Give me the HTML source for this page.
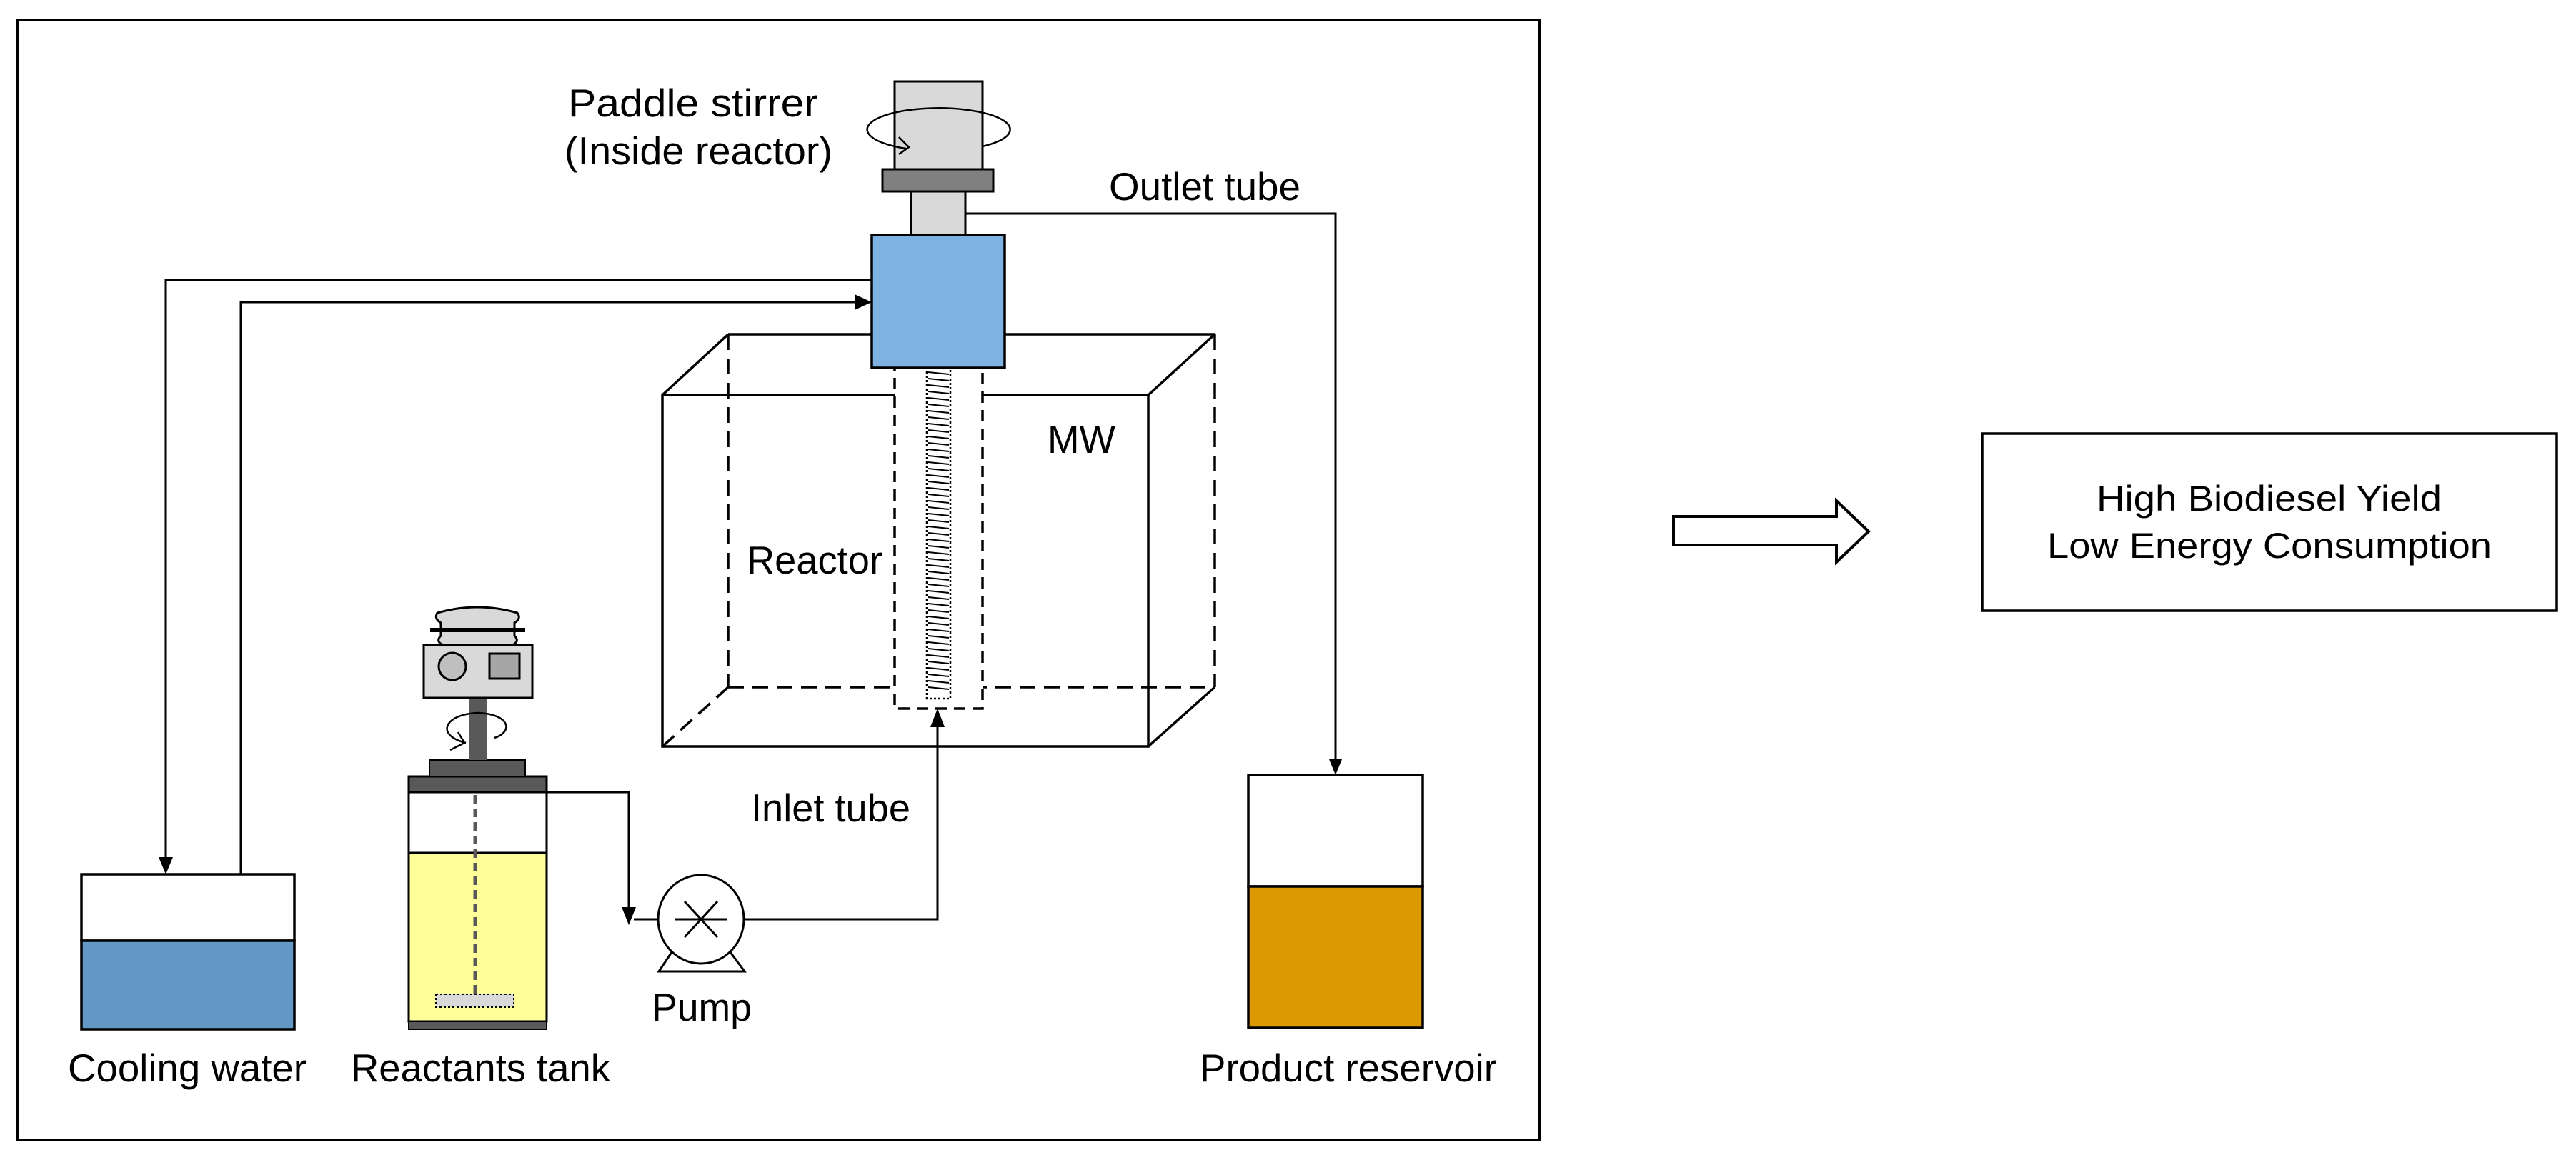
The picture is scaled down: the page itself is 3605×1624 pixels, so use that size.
<!DOCTYPE html>
<html><head><meta charset="utf-8"><style>
html,body{margin:0;padding:0;background:#fff}
svg{display:block}
text{font-family:"Liberation Sans",Arial,sans-serif;fill:#000}
</style></head><body>
<svg width="3605" height="1624" viewBox="0 0 3605 1624" xmlns="http://www.w3.org/2000/svg">
<rect width="3605" height="1624" fill="#fff"/>
<rect x="24" y="28" width="2131" height="1568" fill="none" stroke="#000" stroke-width="4"/>

<g fill="none" stroke="#000" stroke-width="3.5">
<rect x="927" y="553" width="680" height="492"/>
<line x1="1019" y1="468" x2="1700" y2="468"/>
<line x1="927" y1="553" x2="1019" y2="468"/>
<line x1="1607" y1="553" x2="1700" y2="468"/>
<line x1="1607" y1="1045" x2="1700" y2="962"/>
<g stroke-dasharray="22,12">
<line x1="1019" y1="468" x2="1019" y2="962"/>
<line x1="1700" y1="468" x2="1700" y2="962"/>
<line x1="1019" y1="962" x2="1700" y2="962"/>
<line x1="927" y1="1045" x2="1019" y2="962"/>
</g>
</g>
<rect x="1252" y="515" width="123" height="477" fill="#fff" stroke="#000" stroke-width="3.5" stroke-dasharray="16,10"/>
<rect x="1297" y="515" width="33" height="463" fill="#fff" stroke="#000" stroke-width="2.5" stroke-dasharray="3,3"/>
<g stroke="#000" stroke-width="2">
<path d="M1299 521 L1328 524 M1299 530 L1328 533 M1299 539 L1328 542 M1299 548 L1328 551 M1299 557 L1328 560 M1299 566 L1328 569 M1299 575 L1328 578 M1299 584 L1328 587 M1299 593 L1328 596 M1299 602 L1328 605 M1299 611 L1328 614 M1299 620 L1328 623 M1299 629 L1328 632 M1299 638 L1328 641 M1299 647 L1328 650 M1299 656 L1328 659 M1299 665 L1328 668 M1299 674 L1328 677 M1299 683 L1328 686 M1299 692 L1328 695 M1299 701 L1328 704 M1299 710 L1328 713 M1299 719 L1328 722 M1299 728 L1328 731 M1299 737 L1328 740 M1299 746 L1328 749 M1299 755 L1328 758 M1299 764 L1328 767 M1299 773 L1328 776 M1299 782 L1328 785 M1299 791 L1328 794 M1299 800 L1328 803 M1299 809 L1328 812 M1299 818 L1328 821 M1299 827 L1328 830 M1299 836 L1328 839 M1299 845 L1328 848 M1299 854 L1328 857 M1299 863 L1328 866 M1299 872 L1328 875 M1299 881 L1328 884 M1299 890 L1328 893 M1299 899 L1328 902 M1299 908 L1328 911 M1299 917 L1328 920 M1299 926 L1328 929 M1299 935 L1328 938 M1299 944 L1328 947 M1299 953 L1328 956 M1299 962 L1328 965"/>
</g>

<rect x="1252" y="114" width="123" height="123" fill="#d9d9d9" stroke="#000" stroke-width="3"/>
<path d="M1268 208 A100 30 0 1 1 1375 205" fill="none" stroke="#000" stroke-width="2.5"/>
<path d="M1258 192 L1272 206 L1258 216" fill="none" stroke="#000" stroke-width="2.5"/>
<rect x="1235" y="237" width="155" height="31" fill="#808080" stroke="#000" stroke-width="3"/>
<rect x="1275" y="268" width="76" height="61" fill="#d9d9d9" stroke="#000" stroke-width="3"/>
<rect x="1220" y="329" width="186" height="186" fill="#7eb2e2" stroke="#000" stroke-width="3.5"/>

<polyline points="1351,299 1869,299 1869,1065" fill="none" stroke="#000" stroke-width="3"/>
<polygon points="1860,1063 1878,1063 1869,1085" fill="#000"/>
<polyline points="1220,392 232,392 232,1204" fill="none" stroke="#000" stroke-width="3"/>
<polygon points="222,1200 242,1200 232,1224" fill="#000"/>
<polyline points="337,1224 337,423 1198,423" fill="none" stroke="#000" stroke-width="3"/>
<polygon points="1196,412 1196,434 1220,423" fill="#000"/>

<rect x="114" y="1224" width="298" height="93" fill="#fff" stroke="#000" stroke-width="3.5"/>
<rect x="114" y="1317" width="298" height="124" fill="#6397c4" stroke="#000" stroke-width="3.5"/>

<rect x="572" y="1109" width="193" height="85" fill="#fff" stroke="#000" stroke-width="3"/>
<rect x="572" y="1194" width="193" height="236" fill="#ffff99" stroke="#000" stroke-width="3"/>
<rect x="572" y="1430" width="193" height="11" fill="#595959" stroke="#000" stroke-width="2"/>
<rect x="572" y="1087" width="193" height="22" fill="#595959" stroke="#000" stroke-width="3"/>
<rect x="601" y="1064" width="134" height="23" fill="#595959" stroke="#000" stroke-width="2"/>
<rect x="656" y="977" width="26" height="87" fill="#595959"/>
<line x1="665" y1="1113" x2="665" y2="1395" stroke="#595959" stroke-width="5" stroke-dasharray="12,7"/>
<rect x="610" y="1392" width="109" height="18" fill="#d9d9d9" stroke="#000" stroke-width="2" stroke-dasharray="3,3"/>
<path d="M652 1040 C610 1030 620 1000 669 998 C715 1000 718 1025 692 1033" fill="none" stroke="#000" stroke-width="2.5"/>
<path d="M641 1025 L650 1040 L630 1050" fill="none" stroke="#000" stroke-width="2.5"/>
<path d="M620 903 Q609 898 617 890 L617 872 Q607 866 612 858 Q668 842 724 858 Q730 866 720 872 L720 890 Q728 898 717 903 Z" fill="#d9d9d9" stroke="#000" stroke-width="3"/>
<line x1="602" y1="882" x2="735" y2="882" stroke="#000" stroke-width="6"/>
<rect x="593" y="903" width="152" height="74" fill="#d9d9d9" stroke="#000" stroke-width="3"/>
<circle cx="633" cy="933" r="19" fill="#bfbfbf" stroke="#000" stroke-width="3"/>
<rect x="685" y="915" width="42" height="35" fill="#a6a6a6" stroke="#000" stroke-width="3"/>

<polyline points="765,1109 880,1109 880,1273" fill="none" stroke="#000" stroke-width="3"/>
<polygon points="870,1270 890,1270 880,1295" fill="#000"/>
<line x1="887" y1="1287" x2="921" y2="1287" stroke="#000" stroke-width="3"/>
<polygon points="922,1360 940,1333 1022,1333 1042,1360" fill="#fff" stroke="#000" stroke-width="3"/>
<ellipse cx="981" cy="1287" rx="60" ry="62" fill="#fff" stroke="#000" stroke-width="3"/>
<g stroke="#000" stroke-width="3"><line x1="945" y1="1287" x2="1017" y2="1287"/><line x1="958" y1="1262" x2="1004" y2="1312"/><line x1="958" y1="1312" x2="1004" y2="1262"/></g>
<polyline points="1041,1287 1312,1287 1312,1015" fill="none" stroke="#000" stroke-width="3"/>
<polygon points="1302,1018 1322,1018 1312,992" fill="#000"/>

<rect x="1747" y="1085" width="244" height="156" fill="#fff" stroke="#000" stroke-width="3.5"/>
<rect x="1747" y="1241" width="244" height="198" fill="#dd9900" stroke="#000" stroke-width="3.5"/>

<g font-size="55">
<text x="795" y="163" textLength="350" lengthAdjust="spacingAndGlyphs">Paddle stirrer</text>
<text x="790" y="230" textLength="375" lengthAdjust="spacingAndGlyphs">(Inside reactor)</text>
<text x="1552" y="280" textLength="268" lengthAdjust="spacingAndGlyphs">Outlet tube</text>
<text x="1466" y="634" textLength="95" lengthAdjust="spacingAndGlyphs">MW</text>
<text x="1045" y="803" textLength="190" lengthAdjust="spacingAndGlyphs">Reactor</text>
<text x="1051" y="1150" textLength="223" lengthAdjust="spacingAndGlyphs">Inlet tube</text>
<text x="912" y="1429" textLength="140" lengthAdjust="spacingAndGlyphs">Pump</text>
<text x="95" y="1514" textLength="334" lengthAdjust="spacingAndGlyphs">Cooling water</text>
<text x="491" y="1514" textLength="363" lengthAdjust="spacingAndGlyphs">Reactants tank</text>
<text x="1679" y="1514" textLength="416" lengthAdjust="spacingAndGlyphs">Product reservoir</text>
</g>

<polygon points="2342,723 2570,723 2570,701 2615,744 2570,787 2570,763 2342,763" fill="#fff" stroke="#000" stroke-width="4"/>
<rect x="2774" y="607" width="804" height="248" fill="none" stroke="#000" stroke-width="3.5"/>
<g font-size="50">
<text x="2934" y="715" textLength="483" lengthAdjust="spacingAndGlyphs">High Biodiesel Yield</text>
<text x="2865" y="781" textLength="622" lengthAdjust="spacingAndGlyphs">Low Energy Consumption</text>
</g>
</svg>
</body></html>
